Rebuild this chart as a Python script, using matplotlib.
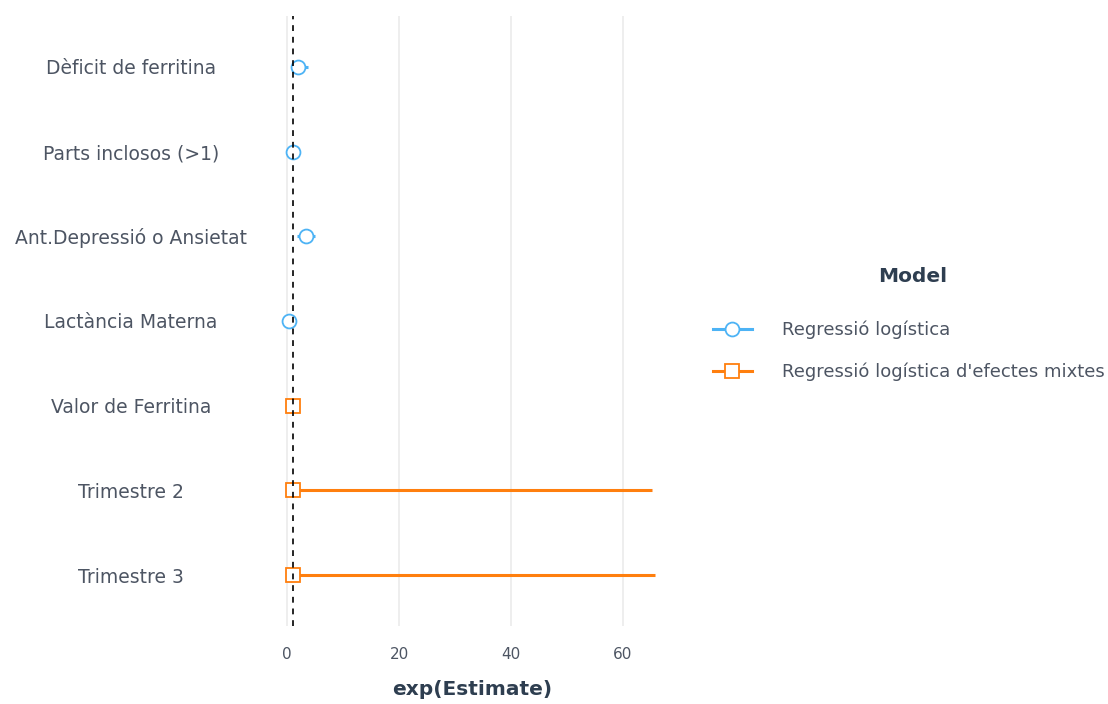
import matplotlib as mpl
mpl.use('Agg')

import matplotlib.pyplot as plt
from matplotlib.lines import Line2D
import numpy as np

# odds ratios per term, top to bottom
terms = ['Dèficit de ferritina', 'Parts inclosos (>1)', 'Ant.Depressió o Ansietat',
         'Lactància Materna', 'Valor de Ferritina', 'Trimestre 2', 'Trimestre 3']
estimate = [1.9, 1.1, 3.3, 0.35, 1.0, 1.0, 1.0]
conf_low = [0.9, 0.5, 1.8, 0.1, 0.95, 0.05, 0.05]
conf_high = [3.8, 1.6, 5.0, 0.6, 1.05, 65.2, 65.7]
model = ['log', 'log', 'log', 'log', 'mix', 'mix', 'mix']

model_names = {'log': 'Regressió logística', 'mix': "Regressió logística d'efectes mixtes"}
colors = {'log': '#4DB3F5', 'mix': '#FF7F0E'}
markers = {'log': 'o', 'mix': 's'}

txt = '#4D5563'
title_col = '#2E3E50'
plt.rcParams['font.family'] = ['DejaVu Sans']

fig = plt.figure(figsize=(11.08, 7.04), dpi=100)
ax = fig.add_axes([271 / 1108, 1 - 626 / 704, (673 - 271) / 1108, (626 - 16) / 704])

ypos = np.arange(len(terms))[::-1]
for y, est, lo, hi, m in zip(ypos, estimate, conf_low, conf_high, model):
    ax.plot([lo, hi], [y, y], color=colors[m], lw=2.2, solid_capstyle='butt', zorder=2)
    ax.plot(est, y, marker=markers[m], ms=10, mfc='white', mec=colors[m], mew=1.3,
            linestyle='none', zorder=3)

ax.axvline(1, color='black', ls=(0, (3.5, 3.5)), lw=1.2, zorder=4)

ax.set_xlim(-2.9, 69)
ax.set_ylim(-0.6, len(terms) - 0.4)
ax.set_xticks([0, 20, 40, 60])
ax.set_yticks(ypos)
ax.set_yticklabels(terms, ha='center')
ax.tick_params(axis='y', length=0, pad=101, labelsize=13.5, labelcolor=txt)
ax.tick_params(axis='x', length=0, pad=15, labelsize=11, labelcolor=txt)
ax.grid(axis='x', color='#EBEBEB', lw=1.2)
ax.set_axisbelow(True)
for s in ax.spines.values():
    s.set_visible(False)
ax.set_xlabel('exp(Estimate)', fontsize=14.5, fontweight='bold', color=title_col, labelpad=13)

handles = [Line2D([], [], color=colors[k], lw=2.2, marker=markers[k], ms=10,
                  mfc='white', mec=colors[k], mew=1.3) for k in ['log', 'mix']]
leg = fig.legend(handles, [model_names[k] for k in ['log', 'mix']],
                 loc='center left', bbox_to_anchor=(713 / 1108, 1 - 351 / 704),
                 frameon=False, fontsize=13, borderpad=0, borderaxespad=0,
                 handlelength=2.15, handletextpad=1.65, labelspacing=1.28)
for t in leg.get_texts():
    t.set_color(txt)
fig.text(913 / 1108, 1 - 276 / 704, 'Model', ha='center', va='center',
         fontsize=14.5, fontweight='bold', color=title_col)

fig.savefig('out.png', dpi=100)
